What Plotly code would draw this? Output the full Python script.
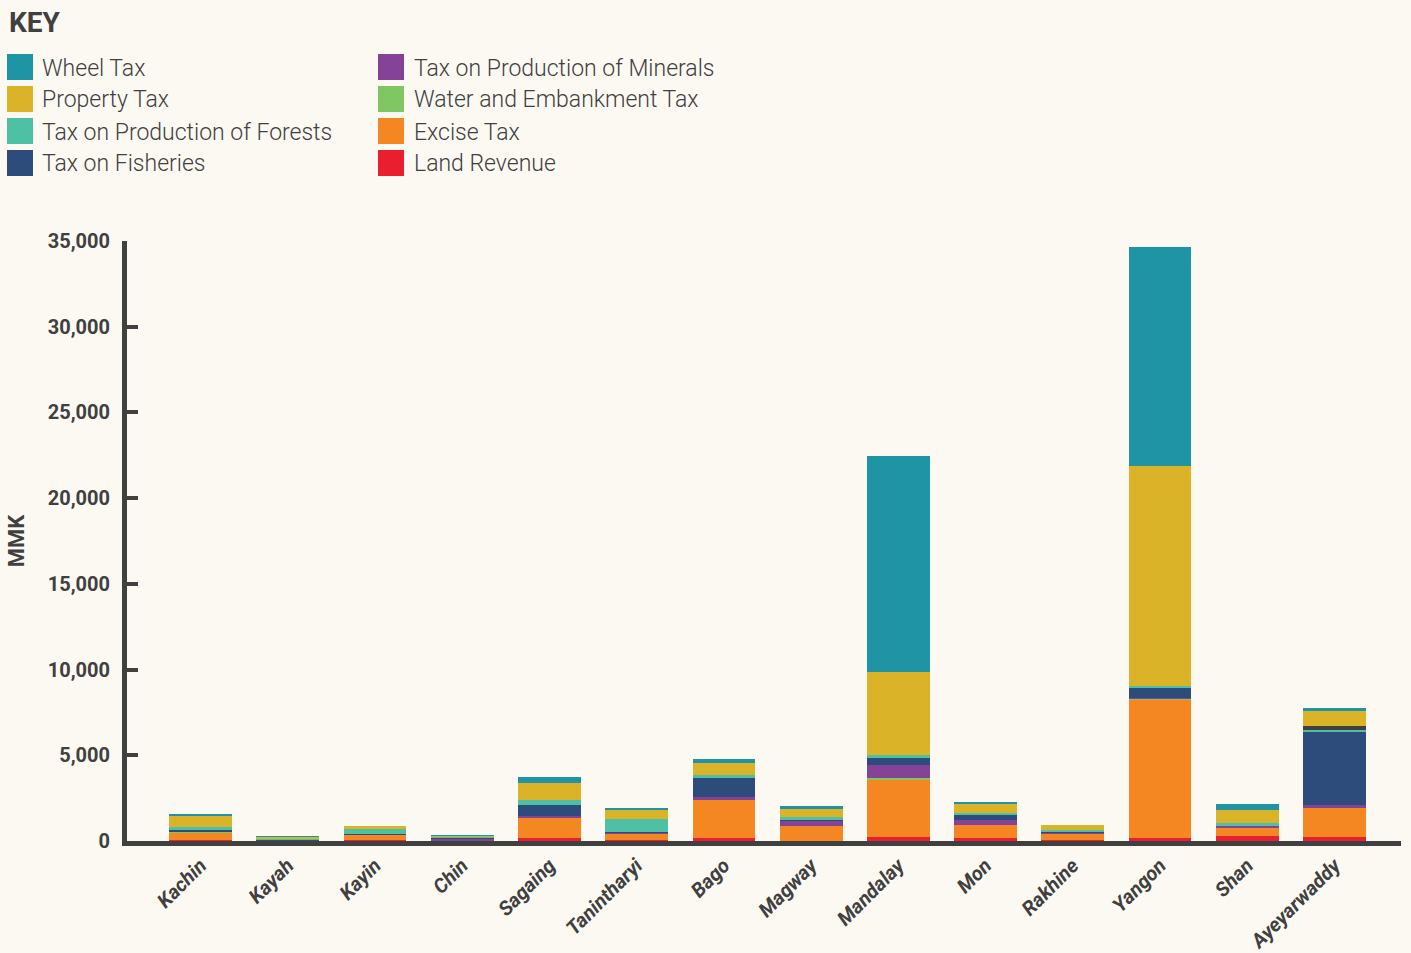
import plotly.graph_objects as go

# ---------------- data ----------------
regions = ["Kachin", "Kayah", "Kayin", "Chin", "Sagaing", "Tanintharyi", "Bago",
           "Magway", "Mandalay", "Mon", "Rakhine", "Yangon", "Shan", "Ayeyarwaddy"]

land_revenue = [30, 10, 50, 10, 150, 30, 150, 20, 230, 150, 40, 175, 290, 230]
excise_tax = [440, 30, 300, 30, 1190, 380, 2240, 850, 3380, 780, 370, 8100, 525, 1690]
water_tax = [50, 0, 0, 0, 0, 0, 0, 0, 60, 0, 0, 20, 0, 0]
minerals_tax = [0, 0, 20, 100, 120, 60, 175, 290, 760, 290, 60, 60, 60, 175]
fisheries_tax = [175, 20, 60, 20, 640, 60, 1110, 120, 410, 350, 60, 580, 20, 4310]
forests_tax = [115, 60, 280, 120, 290, 760, 175, 115, 175, 60, 115, 115, 155, 60]
unlabelled = [0, 0, 0, 0, 0, 0, 0, 0, 0, 0, 0, 0, 0, 230]
property_tax = [700, 150, 175, 40, 990, 525, 700, 465, 4840, 580, 290, 12820, 760, 875]
wheel_tax = [60, 10, 0, 30, 350, 60, 235, 175, 12590, 60, 0, 12760, 350, 175]

y_ticks = [0, 5000, 10000, 15000, 20000, 25000, 30000, 35000]

# stacking order (bottom -> top)
series = [
    ("Land Revenue", land_revenue, "#e91f30"),
    ("Excise Tax", excise_tax, "#f58722"),
    ("Water and Embankment Tax", water_tax, "#80c663"),
    ("Tax on Production of Minerals", minerals_tax, "#844396"),
    ("Tax on Fisheries", fisheries_tax, "#2d4c7b"),
    ("Tax on Production of Forests", forests_tax, "#4ec0a3"),
    ("", unlabelled, "#404040"),
    ("Property Tax", property_tax, "#dbb329"),
    ("Wheel Tax", wheel_tax, "#1f94a4"),
]

# legend layout (two columns)
legend_col1 = ["Wheel Tax", "Property Tax", "Tax on Production of Forests", "Tax on Fisheries"]
legend_col2 = ["Tax on Production of Minerals", "Water and Embankment Tax", "Excise Tax", "Land Revenue"]
colors = {name: c for name, _, c in series}

BG = "#fcf9f2"
DARK = "#404040"

W, H = 1411, 953
ML, MR, MT, MB = 127, 10, 241, 112
PW = W - ML - MR
PH = H - MT - MB


def px_x(px):
    return (px - ML) / PW


def px_y(py):
    return (H - MB - py) / PH


fig = go.Figure()
for name, vals, col in series:
    fig.add_trace(go.Bar(
        x=regions, y=vals, name=name,
        marker=dict(color=col, line=dict(width=0)),
        showlegend=False,
    ))

shapes = []
annotations = []

annotations.append(dict(
    text="KEY", x=px_x(7), y=px_y(22), xref="paper", yref="paper",
    xanchor="left", yanchor="middle", showarrow=False,
    font=dict(family="Roboto", size=28, color=DARK, weight="bold"),
))

row_y = [67, 99, 131, 163]
for col_items, sx, tx in [(legend_col1, 7, 40), (legend_col2, 378, 412)]:
    for i, name in enumerate(col_items):
        cy = row_y[i]
        shapes.append(dict(
            type="rect", xref="paper", yref="paper",
            x0=px_x(sx), x1=px_x(sx + 26), y0=px_y(cy + 13), y1=px_y(cy - 13),
            fillcolor=colors[name], line=dict(width=0),
        ))
        annotations.append(dict(
            text=name, x=px_x(tx), y=px_y(cy + 1), xref="paper", yref="paper",
            xanchor="left", yanchor="middle", showarrow=False,
            font=dict(family="Roboto", size=23, color=DARK, weight=300),
        ))

fig.update_layout(
    width=W, height=H,
    margin=dict(l=ML, r=MR, t=MT, b=MB, autoexpand=False),
    paper_bgcolor=BG, plot_bgcolor=BG,
    barmode="stack", bargap=0.28,
    showlegend=False,
    shapes=shapes, annotations=annotations,
    xaxis=dict(
        type="category", range=[-0.843, 13.762],
        showline=True, linecolor=DARK, linewidth=5,
        showgrid=False, zeroline=False, ticks="",
        tickangle=-45,
        tickfont=dict(family="Roboto", size=20, color=DARK, weight="bold", style="italic"),
        automargin=False,
    ),
    yaxis=dict(
        range=[0, 35000], tickvals=y_ticks, tickformat=",",
        showline=True, linecolor=DARK, linewidth=5,
        ticks="inside", ticklen=11, tickwidth=4, tickcolor=DARK,
        showgrid=False, zeroline=False,
        tickfont=dict(family="Roboto", size=20, color=DARK, weight="bold"),
        ticklabelstandoff=8,
        title=dict(text="MMK", standoff=19,
                   font=dict(family="Roboto", size=22, color=DARK, weight="bold")),
        automargin=False,
    ),
)

fig.write_html(
    "out.html",
    config={"displayModeBar": False},
    post_script="document.body.style.margin='0';document.body.style.background='" + BG + "';",
)
